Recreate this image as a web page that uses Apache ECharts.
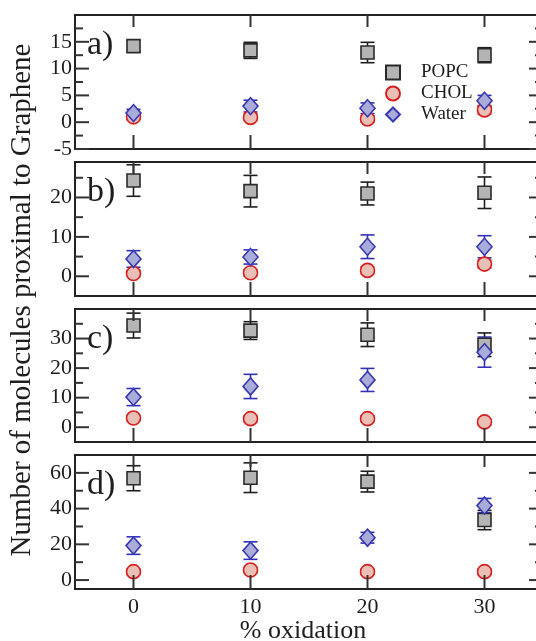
<!DOCTYPE html>
<html>
<head>
<meta charset="utf-8">
<script src="https://cdn.jsdelivr.net/npm/echarts@6/dist/echarts.min.js"></script>
<style>
  html, body { margin: 0; padding: 0; background: #fff; }
  #chart { width: 536px; height: 641px; }
</style>
</head>
<body>
<div id="chart"></div>
<script>
// x positions (% oxidation)
var xValues = [0, 10, 20, 30];
var xTicks = [0, 10, 20, 30];

// panel a
var popcA = [14.2, 13.4, 13.0, 12.5];
var popcAErr = [1.0, 1.5, 1.9, 1.4];
var cholA = [1.0, 0.9, 0.6, 2.3];
var cholAErr = [0.5, 0.6, 0.6, 0.8];
var waterA = [1.7, 3.0, 2.6, 4.0];
var waterAErr = [0.7, 1.1, 1.0, 1.0];

// panel b
var popcB = [24.3, 21.6, 21.0, 21.2];
var popcBErr = [4.0, 4.0, 2.9, 4.0];
var cholB = [0.7, 0.9, 1.5, 3.1];
var cholBErr = [0.8, 0.8, 0.9, 1.0];
var waterB = [4.4, 4.9, 7.5, 7.5];
var waterBErr = [2.1, 1.8, 3.0, 2.8];

// panel c
var popcC = [34.4, 32.7, 31.3, 27.9];
var popcCErr = [4.2, 3.0, 4.0, 4.0];
var cholC = [3.1, 2.9, 2.9, 1.8];
var cholCErr = [1.0, 1.0, 1.0, 1.0];
var waterC = [10.2, 13.8, 16.0, 25.4];
var waterCErr = [2.9, 4.1, 3.9, 5.1];

// panel d
var popcD = [57.0, 57.3, 55.1, 33.6];
var popcDErr = [7.0, 8.3, 5.8, 5.4];
var cholD = [4.7, 5.6, 4.7, 4.7];
var cholDErr = [1.5, 1.5, 1.5, 1.5];
var waterD = [19.3, 16.5, 23.7, 41.7];
var waterDErr = [4.9, 4.9, 3.0, 4.0];

// y tick labels
var yMajorA = [-5, 0, 5, 10, 15];
var yMinorA = [-2.5, 2.5, 7.5, 12.5, 17.5];
var yMajorB = [0, 10, 20];
var yMinorB = [5, 15, 25];
var yMajorC = [0, 10, 20, 30];
var yMinorC = [5, 15, 25, 35];
var yMajorD = [0, 20, 40, 60];
var yMinorD = [10, 30, 50];

var panelNames = ['a)', 'b)', 'c)', 'd)'];

var panels = [
  {top: 15,  height: 134, min: -5, max: 20, major: yMajorA, minor: yMinorA,
   popc: popcA, popcErr: popcAErr, chol: cholA, cholErr: cholAErr, water: waterA, waterErr: waterAErr},
  {top: 162, height: 134, min: -5, max: 29, major: yMajorB, minor: yMinorB,
   popc: popcB, popcErr: popcBErr, chol: cholB, cholErr: cholBErr, water: waterB, waterErr: waterBErr},
  {top: 309, height: 133, min: -5, max: 40, major: yMajorC, minor: yMinorC,
   popc: popcC, popcErr: popcCErr, chol: cholC, cholErr: cholCErr, water: waterC, waterErr: waterCErr},
  {top: 455, height: 134, min: -5, max: 70, major: yMajorD, minor: yMinorD,
   popc: popcD, popcErr: popcDErr, chol: cholD, cholErr: cholDErr, water: waterD, waterErr: waterDErr}
];

var FONT = '"Liberation Serif", "Times New Roman", serif';
var INK = '#1e1e1e';

var styles = {
  POPC:  {symbol: 'rect',    size: 13,       fill: '#b4b4b4', edge: '#2a2a2a', bar: '#1e1e1e'},
  CHOL:  {symbol: 'circle',  size: 14,       fill: '#e9bfb6', edge: '#d62020', bar: '#d62020'},
  Water: {symbol: 'diamond', size: [15, 17], fill: '#a9acd8', edge: '#3838b0', bar: '#3030b8'}
};

function errData(vals, errs){
  return xValues.map(function(x, i){ return [x, vals[i] - errs[i], vals[i] + errs[i]]; });
}

function pointData(vals){
  return xValues.map(function(x, i){ return [x, vals[i]]; });
}

// tick rows: [kind, value, showLabel]; 0 = y major, 1 = y minor, 2 = x major
function tickData(major, minor, xLabels){
  return major.map(function(v){ return [0, v, 1]; })
    .concat(minor.map(function(v){ return [1, v, 0]; }))
    .concat(xTicks.map(function(v){ return [2, v, xLabels ? 1 : 0]; }));
}

function errorRenderer(color){
  return function(params, api){
    var top = api.coord([api.value(0), api.value(2)]);
    var bot = api.coord([api.value(0), api.value(1)]);
    var hw = 7;
    var st = {stroke: color, lineWidth: 1.6};
    return {type: 'group', children: [
      {type: 'line', shape: {x1: top[0], y1: top[1], x2: bot[0], y2: bot[1]}, style: st},
      {type: 'line', shape: {x1: top[0] - hw, y1: top[1], x2: top[0] + hw, y2: top[1]}, style: st},
      {type: 'line', shape: {x1: bot[0] - hw, y1: bot[1], x2: bot[0] + hw, y2: bot[1]}, style: st}
    ]};
  };
}

// inward ticks on all four sides of a panel, plus the tick labels
function tickRenderer(params, api){
  var kind = api.value(0), v = api.value(1), withLabel = api.value(2);
  var cs = params.coordSys;
  var st = {stroke: '#333', lineWidth: 2};
  var kids = [];
  if (kind < 2) {
    var len = kind === 0 ? 14 : 8;
    var y = api.coord([0, v])[1];
    kids.push({type: 'line', shape: {x1: cs.x, y1: y, x2: cs.x + len, y2: y}, style: st});
    kids.push({type: 'line', shape: {x1: cs.x + cs.width - len, y1: y, x2: cs.x + cs.width, y2: y}, style: st});
    if (withLabel) {
      kids.push({type: 'text', x: cs.x - 3, y: y,
        style: {text: String(v), font: '22px ' + FONT, fill: INK, textAlign: 'right', textVerticalAlign: 'middle'}});
    }
  } else {
    var x = api.coord([v, 0])[0];
    var yb = cs.y + cs.height;
    kids.push({type: 'line', shape: {x1: x, y1: yb, x2: x, y2: yb - 14}, style: st});
    kids.push({type: 'line', shape: {x1: x, y1: cs.y, x2: x, y2: cs.y + 12}, style: st});
    if (withLabel) {
      kids.push({type: 'text', x: x, y: yb + 7,
        style: {text: String(v), font: '22px ' + FONT, fill: INK, textAlign: 'center', textVerticalAlign: 'top'}});
    }
  }
  return {type: 'group', children: kids};
}

var grids = [], xAxes = [], yAxes = [], series = [], graphics = [];

panels.forEach(function(p, i){
  grids.push({left: 75, width: 468, top: p.top, height: p.height, outerBoundsMode: 'none',
    show: true, borderColor: '#222', borderWidth: 2});

  xAxes.push({gridIndex: i, type: 'value', min: -5, max: 35, position: 'bottom',
    axisLine: {show: false, onZero: false}, splitLine: {show: false},
    axisTick: {show: false}, axisLabel: {show: false}});
  yAxes.push({gridIndex: i, type: 'value', min: p.min, max: p.max, position: 'left',
    axisLine: {show: false, onZero: false}, splitLine: {show: false},
    axisTick: {show: false}, axisLabel: {show: false}});

  series.push({type: 'custom', name: 'ticks', xAxisIndex: i, yAxisIndex: i, silent: true,
    z: 10, clip: false, renderItem: tickRenderer, data: tickData(p.major, p.minor, i === 3)});

  [['POPC', p.popc, p.popcErr], ['CHOL', p.chol, p.cholErr], ['Water', p.water, p.waterErr]].forEach(function(s){
    var st = styles[s[0]];
    series.push({type: 'custom', name: s[0] + ' error', xAxisIndex: i, yAxisIndex: i,
      renderItem: errorRenderer(st.bar), data: errData(s[1], s[2])});
  });
  [['POPC', p.popc], ['CHOL', p.chol], ['Water', p.water]].forEach(function(s){
    var st = styles[s[0]];
    series.push({type: 'scatter', name: s[0], xAxisIndex: i, yAxisIndex: i,
      symbol: st.symbol, symbolSize: st.size,
      itemStyle: {color: st.fill, borderColor: st.edge, borderWidth: 1.6, opacity: 1},
      data: pointData(s[1])});
  });

  graphics.push({type: 'text', x: 87, y: p.top + 30,
    style: {text: panelNames[i], font: '34px ' + FONT, fill: INK, textAlign: 'left', textVerticalAlign: 'middle'}});
});

graphics.push({type: 'text', x: 22, y: 300, rotation: Math.PI / 2,
  style: {text: 'Number of molecules proximal to Graphene', font: '29px ' + FONT, fill: INK,
    textAlign: 'center', textVerticalAlign: 'middle'}});
graphics.push({type: 'text', x: 303, y: 631,
  style: {text: '% oxidation', font: '26px ' + FONT, fill: INK,
    textAlign: 'center', textVerticalAlign: 'middle'}});

var chart = echarts.init(document.getElementById('chart'));
chart.setOption({
  animation: false,
  grid: grids,
  xAxis: xAxes,
  yAxis: yAxes,
  series: series,
  graphic: graphics,
  legend: {
    data: ['POPC', 'CHOL', 'Water'],
    orient: 'vertical',
    left: 380, top: 58,
    itemWidth: 14, itemHeight: 14, itemGap: 2,
    textStyle: {fontFamily: FONT, fontSize: 19, color: INK, padding: [0, 0, 0, 16]}
  }
});
</script>
</body>
</html>
